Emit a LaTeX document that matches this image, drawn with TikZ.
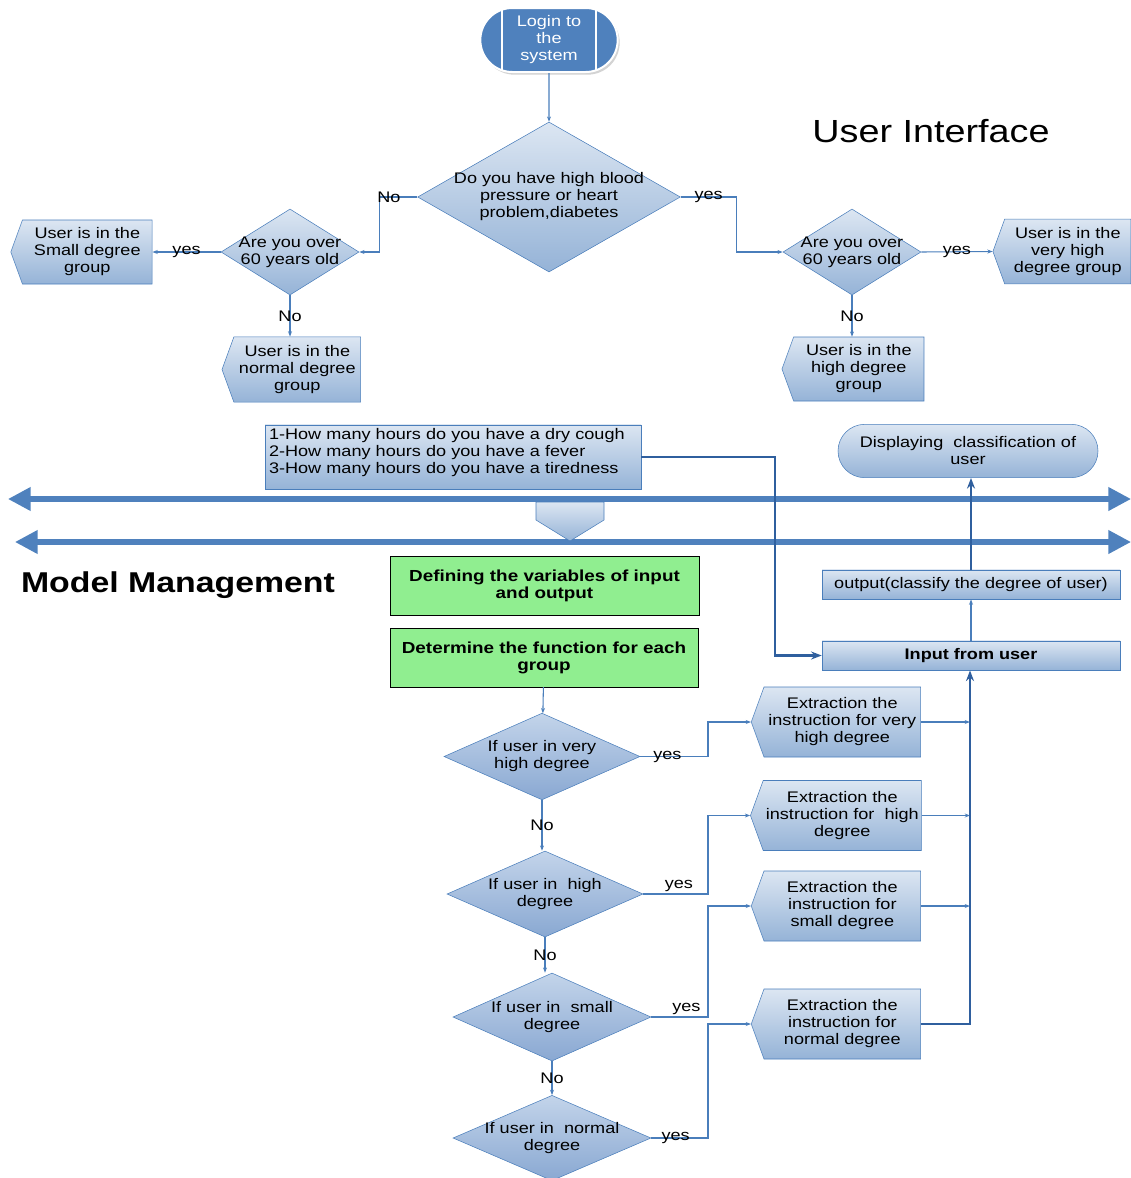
\documentclass[tikz,border=0pt]{standalone}
\usepackage{fontspec}
\setmainfont{Liberation Sans}[FakeStretch=1.18]
\usepackage{xcolor}
\usepackage{tikz}
\usetikzlibrary{
  graphs,
  positioning,
  calc,
  arrows.meta,
  shadows,
  shapes.geometric,
  shapes.symbols,
  shapes.misc,
}
\definecolor{boxtop}{HTML}{DCE6F2}
\definecolor{boxbot}{HTML}{95B3D7}
\definecolor{asktop}{HTML}{C3D4EA}
\definecolor{askbot}{HTML}{89A8D2}
\definecolor{boxline}{HTML}{4A7EBB}
\definecolor{lineblue}{HTML}{4A7EBB}
\definecolor{heavyblue}{HTML}{2F5F9E}
\definecolor{barblue}{HTML}{4F81BD}
\definecolor{loginblue}{HTML}{4F81BD}
\definecolor{greenfill}{HTML}{90EE90}
\newcommand\boxsize{\fontsize{11.5pt}{12.75pt}\selectfont}
\tikzset{
  meta box/.style={
    draw=boxline,
    top color=boxtop,
    bottom color=boxbot,
    font=\boxsize,
    align=center,
    inner sep=2pt
  },
  punkt/.style={
    meta box,
    rectangle
  },
  flag box/.style={
    meta box,
    signal,
    signal to=west,
    signal pointer angle=140
  },
  ask/.style={
    meta box,
    diamond,
    inner sep=0pt
  },
  ask dark/.style={
    ask,
    top color=asktop,
    bottom color=askbot
  },
  ask text/.style={
    font=\boxsize,
    align=center,
    inner sep=0pt
  },
  green box/.style={
    draw=black,
    fill=greenfill,
    font=\fontsize{12pt}{12.75pt}\selectfont\bfseries,
    align=center
  },
  link/.style={
    draw=lineblue,
    line width=0.8pt,
    ->
  },
  heavy link/.style={
    draw=heavyblue,
    line width=1.6pt,
    -{Stealth[length=8pt,width=6pt]}
  },
  bar/.style={
    draw=barblue,
    line width=3.8pt,
    {Triangle[length=17pt,width=17pt]}-{Triangle[length=17pt,width=17pt]}
  },
  tag/.style={
    font=\boxsize,
    inner sep=1pt
  }
}

\begin{document}
\begin{tikzpicture}[x=0.75pt, y=-0.75pt, >={Stealth[length=4pt,width=3pt]}]
  \useasboundingbox (0,0) rectangle (1131,1178);

  % titles of the two layers
  \node[font=\fontsize{24pt}{28pt}\selectfont] (ui) at (931,131) {User Interface};
  \node[font=\fontsize{21.5pt}{26pt}\selectfont\bfseries] (mm) at (178,585) {Model Management};

  % user interface part
  \node[rounded rectangle, draw=white, line width=1.5pt, fill=loginblue, text=white,
        font=\boxsize, align=center, inner sep=1pt,
        minimum width=105pt, minimum height=48pt,
        drop shadow={shadow xshift=1.5pt, shadow yshift=-2pt, opacity=0.35},
        path picture={
          \draw[white, line width=1.5pt]
            ([xshift=16.5pt]path picture bounding box.north west) -- ([xshift=16.5pt]path picture bounding box.south west)
            ([xshift=-16.5pt]path picture bounding box.north east) -- ([xshift=-16.5pt]path picture bounding box.south east);
        }] (login) at (549,40) {Login to\\the\\system};

  \node[ask, minimum width=197pt, minimum height=112.5pt,
        label={[ask text]center:{Do you have high blood\\pressure or heart\\problem,diabetes}}] (q1) at (549,197) {};
  \node[ask, minimum width=103.5pt, minimum height=64.5pt,
        label={[ask text]center:{Are you over\\60 years old}}] (q2) at (290,252) {};
  \node[ask, minimum width=103.5pt, minimum height=64.5pt,
        label={[ask text]center:{Are you over\\60 years old}}] (q3) at (852,252) {};

  \node[flag box, minimum width=106pt, minimum height=48pt] (small) at (87.3,252) {User is in the\\Small degree\\group};
  \node[flag box, minimum width=104pt, minimum height=49pt] (normal) at (297.3,369.5) {User is in the\\normal degree\\group};
  \node[flag box, minimum width=103.5pt, minimum height=48.5pt] (vhigh) at (1067.8,251.5) {User is in the\\very high\\degree group};
  \node[flag box, minimum width=106.5pt, minimum height=48pt] (high) at (858.8,369) {User is in the\\high degree\\group};

  \node[punkt, minimum width=282pt, minimum height=48pt, inner sep=3pt, text width=276pt, text depth=34pt, align=left] (qs) at (453,457)
    {1-How many hours do you have a dry cough\\2-How many hours do you have a fever\\3-How many hours do you have a tiredness};
  \node[meta box, rounded rectangle, minimum width=199pt, minimum height=40pt] (disp) at (968,451) {Displaying\ \ classification of\\user};

  % the two layer bars
  \coordinate (bar1w) at (8,499);
  \coordinate (bar1e) at (1131,499);
  \coordinate (bar2w) at (15,542);
  \coordinate (bar2e) at (1131,542);
  \draw[bar] (bar1w) -- (bar1e);
  \draw[bar] (bar2w) -- (bar2e);
  \shade[draw=boxline, top color=boxtop, bottom color=boxbot]
    (536,502) -- (604,502) -- (604,520) -- (570,541) -- (536,520) -- cycle;

  % model management part
  \node[punkt, minimum width=223.5pt, minimum height=22pt] (out) at (971,584.5) {output(classify the degree of user)};
  \node[punkt, minimum width=223.5pt, minimum height=22pt, font=\boxsize\bfseries] (inp) at (971,655.5) {Input from user};
  \node[green box, minimum width=232pt, minimum height=44pt] (def) at (544.5,585.5) {Defining the variables of input\\and output};
  \node[green box, minimum width=231pt, minimum height=44pt] (det) at (544,657.5) {Determine the function for each\\group};

  \node[ask dark, minimum width=147pt, minimum height=65pt,
        label={[ask text]center:{If user in very\\high degree}}] (d1) at (542,756.5) {};
  \node[ask dark, minimum width=147pt, minimum height=64.5pt,
        label={[ask text]center:{If user in\ \ high\\degree}}] (d2) at (545,894) {};
  \node[ask dark, minimum width=148.5pt, minimum height=66pt,
        label={[ask text]center:{If user in\ \ small\\degree}}] (d3) at (552,1017) {};
  \node[ask dark, minimum width=148.5pt, minimum height=64pt,
        label={[ask text]center:{If user in\ \ normal\\degree}}] (d4) at (552,1138) {};

  \node[flag box, minimum width=127pt, minimum height=52.5pt] (ex1) at (842.3,722) {Extraction the\\instruction for very\\high degree};
  \node[flag box, minimum width=127pt, minimum height=52.5pt] (ex2) at (842.3,815.5) {Extraction the\\instruction for\ \ high\\degree};
  \node[flag box, minimum width=127pt, minimum height=52.5pt] (ex3) at (842.3,906) {Extraction the\\instruction for\\small degree};
  \node[flag box, minimum width=127pt, minimum height=52.5pt] (ex4) at (842.3,1024) {Extraction the\\instruction for\\normal degree};

  \coordinate (split) at (708,0);
  \coordinate (join) at (970,0);

  \graph[edges={link}]{
    (login) -> (q1);
    (inp) -> (out);
    (det) -> (d1);
  };

  \draw[link] (q1.west) -- node[tag, pos=.75]{No} ++(-28.5pt,0) |- (q2.east);
  \draw[link] (q1.east) -- node[tag]{yes} ++(42pt,0) |- (q3.west);
  \draw[link] (q2.west) -- node[tag]{yes} (small.east);
  \draw[link] (q2.south) -- node[tag]{No} (q2.south |- normal.north);
  \draw[link] (q3.east) -- node[tag]{yes} (vhigh.west);
  \draw[link] (q3.south) -- node[tag]{No} (q3.south |- high.north);

  \draw[link] (d1.south) -- node[tag]{No} (d1.south |- d2.north);
  \draw[link] (d2.south) -- node[tag]{No} (d2.south |- d3.north);
  \draw[link] (d3.south) -- node[tag]{No} (d3.south |- d4.north);
  \draw[link] (d1.east) -- node[tag, pos=.4]{yes} (d1.east -| split) |- (ex1.west);
  \draw[link] (d2.east) -- node[tag, above, pos=.55]{yes} (d2.east -| split) |- (ex2.west);
  \draw[link] (d3.east) -- node[tag, above, pos=.62]{yes} (d3.east -| split) |- (ex3.west);
  \draw[link] (d4.east) -- node[tag, pos=.43]{yes} (d4.east -| split) |- (ex4.west);

  \draw[link] (ex1.east) -- (ex1.east -| join);
  \draw[link] (ex2.east) -- (ex2.east -| join);
  \draw[link] (ex3.east) -- (ex3.east -| join);
  \draw[heavy link] (ex4.east) -- (ex4.east -| join) -- (join |- inp.south);

  \draw[heavy link] (qs.east) -| ([xshift=-35pt]inp.west) -- (inp.west);
  \draw[heavy link, line width=2pt] (out.north) -- (out.north |- disp.south);
\end{tikzpicture}
\end{document}
